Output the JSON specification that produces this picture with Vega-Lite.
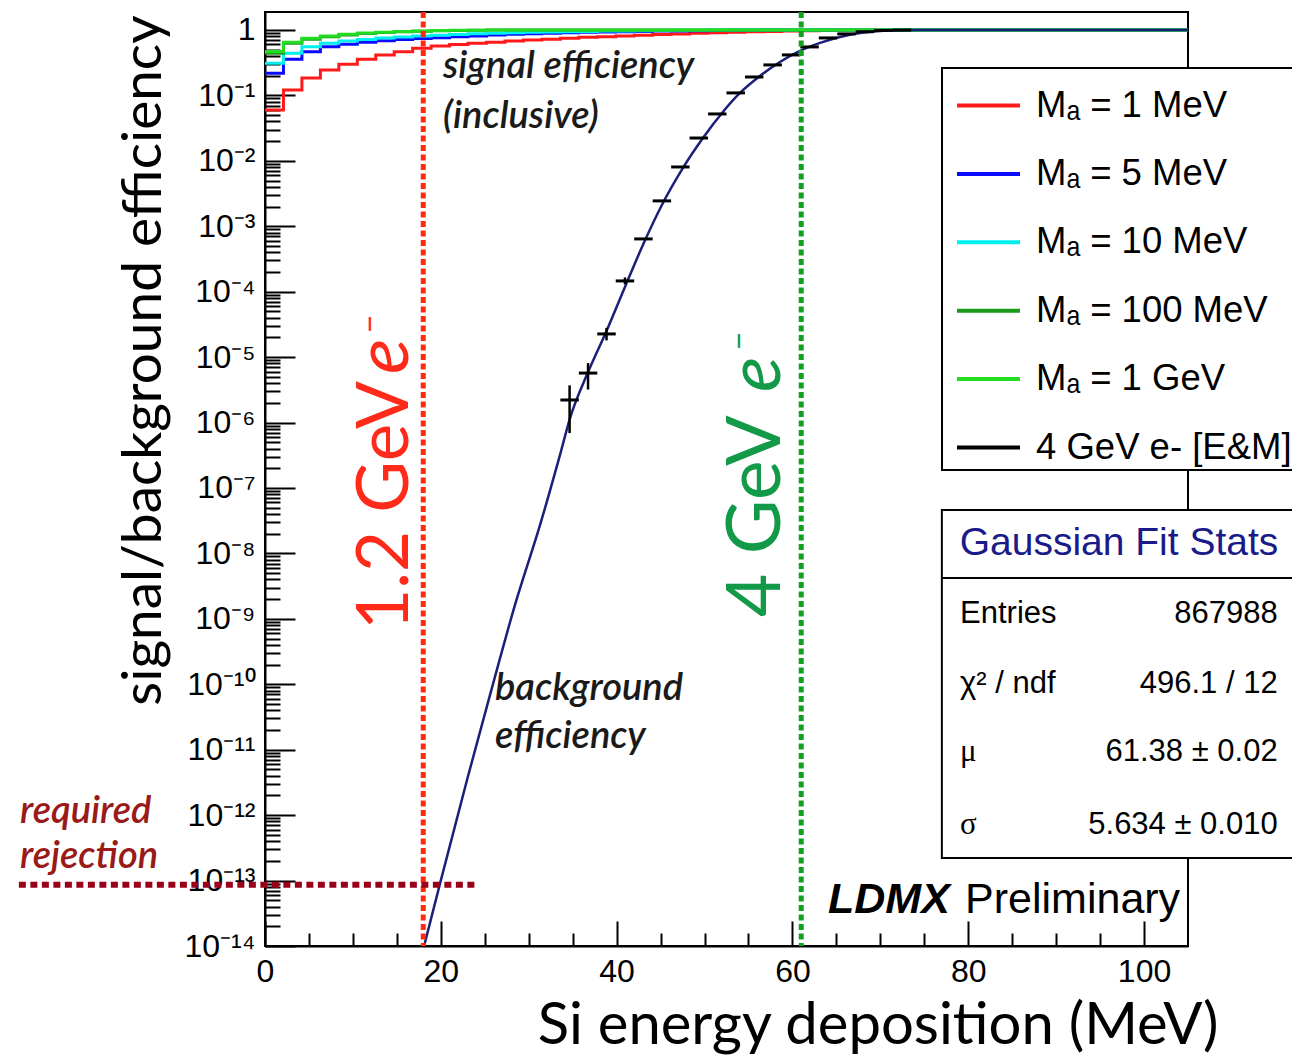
{
  "$schema": "https://vega.github.io/schema/vega-lite/v6.json",
  "width": 923,
  "height": 934,
  "autosize": {"type": "none"},
  "padding": {"left": 265, "top": 12, "right": 104, "bottom": 112},
  "background": "white",
  "config": {
    "view": {"stroke": "black", "strokeWidth": 2},
    "font": "Liberation Sans",
    "legend": {"strokeWidth": 2}
  },
  "datasets": {
    "one": [{}],
    "signal": [
      {"sample": "Mₐ = 1 MeV", "e": 0, "eff": 0.06},
      {"sample": "Mₐ = 1 MeV", "e": 2.1, "eff": 0.121},
      {"sample": "Mₐ = 1 MeV", "e": 4.2, "eff": 0.184},
      {"sample": "Mₐ = 1 MeV", "e": 6.3, "eff": 0.244},
      {"sample": "Mₐ = 1 MeV", "e": 8.4, "eff": 0.3},
      {"sample": "Mₐ = 1 MeV", "e": 10.5, "eff": 0.356},
      {"sample": "Mₐ = 1 MeV", "e": 12.6, "eff": 0.414},
      {"sample": "Mₐ = 1 MeV", "e": 14.7, "eff": 0.466},
      {"sample": "Mₐ = 1 MeV", "e": 16.8, "eff": 0.525},
      {"sample": "Mₐ = 1 MeV", "e": 18.9, "eff": 0.57},
      {"sample": "Mₐ = 1 MeV", "e": 21, "eff": 0.6},
      {"sample": "Mₐ = 1 MeV", "e": 23.1, "eff": 0.625},
      {"sample": "Mₐ = 1 MeV", "e": 25.2, "eff": 0.65},
      {"sample": "Mₐ = 1 MeV", "e": 27.3, "eff": 0.675},
      {"sample": "Mₐ = 1 MeV", "e": 29.4, "eff": 0.7},
      {"sample": "Mₐ = 1 MeV", "e": 31.5, "eff": 0.72},
      {"sample": "Mₐ = 1 MeV", "e": 33.6, "eff": 0.745},
      {"sample": "Mₐ = 1 MeV", "e": 35.7, "eff": 0.77},
      {"sample": "Mₐ = 1 MeV", "e": 37.8, "eff": 0.79},
      {"sample": "Mₐ = 1 MeV", "e": 39.9, "eff": 0.81},
      {"sample": "Mₐ = 1 MeV", "e": 42, "eff": 0.83},
      {"sample": "Mₐ = 1 MeV", "e": 44.1, "eff": 0.85},
      {"sample": "Mₐ = 1 MeV", "e": 46.2, "eff": 0.87},
      {"sample": "Mₐ = 1 MeV", "e": 48.3, "eff": 0.89},
      {"sample": "Mₐ = 1 MeV", "e": 50.4, "eff": 0.905},
      {"sample": "Mₐ = 1 MeV", "e": 52.5, "eff": 0.92},
      {"sample": "Mₐ = 1 MeV", "e": 54.6, "eff": 0.935},
      {"sample": "Mₐ = 1 MeV", "e": 56.7, "eff": 0.95},
      {"sample": "Mₐ = 1 MeV", "e": 58.8, "eff": 0.96},
      {"sample": "Mₐ = 1 MeV", "e": 60.9, "eff": 0.97},
      {"sample": "Mₐ = 1 MeV", "e": 63, "eff": 0.98},
      {"sample": "Mₐ = 1 MeV", "e": 65.1, "eff": 0.987},
      {"sample": "Mₐ = 1 MeV", "e": 67.2, "eff": 0.993},
      {"sample": "Mₐ = 1 MeV", "e": 69.3, "eff": 1.0},
      {"sample": "Mₐ = 1 MeV", "e": 105, "eff": 1.0},
      {"sample": "Mₐ = 5 MeV", "e": 0, "eff": 0.218},
      {"sample": "Mₐ = 5 MeV", "e": 2.1, "eff": 0.356},
      {"sample": "Mₐ = 5 MeV", "e": 4.2, "eff": 0.466},
      {"sample": "Mₐ = 5 MeV", "e": 6.3, "eff": 0.555},
      {"sample": "Mₐ = 5 MeV", "e": 8.4, "eff": 0.604},
      {"sample": "Mₐ = 5 MeV", "e": 10.5, "eff": 0.648},
      {"sample": "Mₐ = 5 MeV", "e": 12.6, "eff": 0.685},
      {"sample": "Mₐ = 5 MeV", "e": 14.7, "eff": 0.715},
      {"sample": "Mₐ = 5 MeV", "e": 16.8, "eff": 0.738},
      {"sample": "Mₐ = 5 MeV", "e": 18.9, "eff": 0.758},
      {"sample": "Mₐ = 5 MeV", "e": 21, "eff": 0.785},
      {"sample": "Mₐ = 5 MeV", "e": 23.1, "eff": 0.81},
      {"sample": "Mₐ = 5 MeV", "e": 25.2, "eff": 0.835},
      {"sample": "Mₐ = 5 MeV", "e": 27.3, "eff": 0.858},
      {"sample": "Mₐ = 5 MeV", "e": 29.4, "eff": 0.875},
      {"sample": "Mₐ = 5 MeV", "e": 31.5, "eff": 0.89},
      {"sample": "Mₐ = 5 MeV", "e": 33.6, "eff": 0.905},
      {"sample": "Mₐ = 5 MeV", "e": 35.7, "eff": 0.92},
      {"sample": "Mₐ = 5 MeV", "e": 37.8, "eff": 0.93},
      {"sample": "Mₐ = 5 MeV", "e": 39.9, "eff": 0.94},
      {"sample": "Mₐ = 5 MeV", "e": 42, "eff": 0.95},
      {"sample": "Mₐ = 5 MeV", "e": 44.1, "eff": 0.96},
      {"sample": "Mₐ = 5 MeV", "e": 46.2, "eff": 0.967},
      {"sample": "Mₐ = 5 MeV", "e": 48.3, "eff": 0.975},
      {"sample": "Mₐ = 5 MeV", "e": 50.4, "eff": 0.982},
      {"sample": "Mₐ = 5 MeV", "e": 52.5, "eff": 0.988},
      {"sample": "Mₐ = 5 MeV", "e": 54.6, "eff": 0.993},
      {"sample": "Mₐ = 5 MeV", "e": 56.7, "eff": 0.997},
      {"sample": "Mₐ = 5 MeV", "e": 58.8, "eff": 1.0},
      {"sample": "Mₐ = 5 MeV", "e": 105, "eff": 1.0},
      {"sample": "Mₐ = 10 MeV", "e": 0, "eff": 0.31},
      {"sample": "Mₐ = 10 MeV", "e": 2.1, "eff": 0.44},
      {"sample": "Mₐ = 10 MeV", "e": 4.2, "eff": 0.555},
      {"sample": "Mₐ = 10 MeV", "e": 6.3, "eff": 0.625},
      {"sample": "Mₐ = 10 MeV", "e": 8.4, "eff": 0.675},
      {"sample": "Mₐ = 10 MeV", "e": 10.5, "eff": 0.715},
      {"sample": "Mₐ = 10 MeV", "e": 12.6, "eff": 0.75},
      {"sample": "Mₐ = 10 MeV", "e": 14.7, "eff": 0.78},
      {"sample": "Mₐ = 10 MeV", "e": 16.8, "eff": 0.805},
      {"sample": "Mₐ = 10 MeV", "e": 18.9, "eff": 0.83},
      {"sample": "Mₐ = 10 MeV", "e": 21, "eff": 0.855},
      {"sample": "Mₐ = 10 MeV", "e": 23.1, "eff": 0.875},
      {"sample": "Mₐ = 10 MeV", "e": 25.2, "eff": 0.89},
      {"sample": "Mₐ = 10 MeV", "e": 27.3, "eff": 0.905},
      {"sample": "Mₐ = 10 MeV", "e": 29.4, "eff": 0.92},
      {"sample": "Mₐ = 10 MeV", "e": 31.5, "eff": 0.93},
      {"sample": "Mₐ = 10 MeV", "e": 33.6, "eff": 0.94},
      {"sample": "Mₐ = 10 MeV", "e": 35.7, "eff": 0.95},
      {"sample": "Mₐ = 10 MeV", "e": 37.8, "eff": 0.96},
      {"sample": "Mₐ = 10 MeV", "e": 39.9, "eff": 0.967},
      {"sample": "Mₐ = 10 MeV", "e": 42, "eff": 0.975},
      {"sample": "Mₐ = 10 MeV", "e": 44.1, "eff": 0.982},
      {"sample": "Mₐ = 10 MeV", "e": 46.2, "eff": 0.988},
      {"sample": "Mₐ = 10 MeV", "e": 48.3, "eff": 0.993},
      {"sample": "Mₐ = 10 MeV", "e": 50.4, "eff": 0.997},
      {"sample": "Mₐ = 10 MeV", "e": 52.5, "eff": 1.0},
      {"sample": "Mₐ = 10 MeV", "e": 105, "eff": 1.0},
      {"sample": "Mₐ = 100 MeV", "e": 0, "eff": 0.44},
      {"sample": "Mₐ = 100 MeV", "e": 2.1, "eff": 0.625},
      {"sample": "Mₐ = 100 MeV", "e": 4.2, "eff": 0.72},
      {"sample": "Mₐ = 100 MeV", "e": 6.3, "eff": 0.79},
      {"sample": "Mₐ = 100 MeV", "e": 8.4, "eff": 0.84},
      {"sample": "Mₐ = 100 MeV", "e": 10.5, "eff": 0.88},
      {"sample": "Mₐ = 100 MeV", "e": 12.6, "eff": 0.91},
      {"sample": "Mₐ = 100 MeV", "e": 14.7, "eff": 0.935},
      {"sample": "Mₐ = 100 MeV", "e": 16.8, "eff": 0.955},
      {"sample": "Mₐ = 100 MeV", "e": 18.9, "eff": 0.97},
      {"sample": "Mₐ = 100 MeV", "e": 21, "eff": 0.98},
      {"sample": "Mₐ = 100 MeV", "e": 23.1, "eff": 0.988},
      {"sample": "Mₐ = 100 MeV", "e": 25.2, "eff": 0.994},
      {"sample": "Mₐ = 100 MeV", "e": 27.3, "eff": 0.998},
      {"sample": "Mₐ = 100 MeV", "e": 29.4, "eff": 1.0},
      {"sample": "Mₐ = 100 MeV", "e": 105, "eff": 1.0},
      {"sample": "Mₐ = 1 GeV", "e": 0, "eff": 0.47},
      {"sample": "Mₐ = 1 GeV", "e": 2.1, "eff": 0.65},
      {"sample": "Mₐ = 1 GeV", "e": 4.2, "eff": 0.745},
      {"sample": "Mₐ = 1 GeV", "e": 6.3, "eff": 0.81},
      {"sample": "Mₐ = 1 GeV", "e": 8.4, "eff": 0.86},
      {"sample": "Mₐ = 1 GeV", "e": 10.5, "eff": 0.895},
      {"sample": "Mₐ = 1 GeV", "e": 12.6, "eff": 0.925},
      {"sample": "Mₐ = 1 GeV", "e": 14.7, "eff": 0.945},
      {"sample": "Mₐ = 1 GeV", "e": 16.8, "eff": 0.965},
      {"sample": "Mₐ = 1 GeV", "e": 18.9, "eff": 0.977},
      {"sample": "Mₐ = 1 GeV", "e": 21, "eff": 0.986},
      {"sample": "Mₐ = 1 GeV", "e": 23.1, "eff": 0.992},
      {"sample": "Mₐ = 1 GeV", "e": 25.2, "eff": 0.997},
      {"sample": "Mₐ = 1 GeV", "e": 27.3, "eff": 1.0},
      {"sample": "Mₐ = 1 GeV", "e": 105, "eff": 1.0}
    ],
    "fit": [
      {"e": 18.1, "eff": 1e-14},
      {"e": 19.9, "eff": 8.9e-14},
      {"e": 22.98, "eff": 3.45e-12},
      {"e": 25.6, "eff": 6.9e-11},
      {"e": 28.44, "eff": 1.63e-9},
      {"e": 31.29, "eff": 2.72e-8},
      {"e": 33.56, "eff": 3.2e-7},
      {"e": 34.7, "eff": 1.17e-6},
      {"e": 36.75, "eff": 5.9e-6},
      {"e": 38.9, "eff": 2.6e-5},
      {"e": 40.95, "eff": 1.18e-4},
      {"e": 43.0, "eff": 5.2e-4},
      {"e": 45.15, "eff": 2.11e-3},
      {"e": 47.55, "eff": 7.8e-3},
      {"e": 49.82, "eff": 0.0223},
      {"e": 51.99, "eff": 0.0538},
      {"e": 54.03, "eff": 0.109},
      {"e": 56.31, "eff": 0.198},
      {"e": 58.58, "eff": 0.324},
      {"e": 60.86, "eff": 0.478},
      {"e": 63.14, "eff": 0.633},
      {"e": 65.41, "eff": 0.782},
      {"e": 67.69, "eff": 0.9},
      {"e": 69.97, "eff": 0.965},
      {"e": 72.24, "eff": 0.99},
      {"e": 74.5, "eff": 1.0},
      {"e": 105, "eff": 1.0}
    ],
    "bkg": [
      {"sample": "4 GeV e- [E&M]", "e": 34.65, "e_lo": 33.6, "e_hi": 35.7, "eff": 2.21e-6, "lo": 6.9e-7, "hi": 3.7e-6},
      {"sample": "4 GeV e- [E&M]", "e": 36.75, "e_lo": 35.7, "e_hi": 37.8, "eff": 5.7e-6, "lo": 3.2e-6, "hi": 8.1e-6},
      {"sample": "4 GeV e- [E&M]", "e": 38.85, "e_lo": 37.8, "e_hi": 39.9, "eff": 2.26e-5, "lo": 1.8e-5, "hi": 2.8e-5},
      {"sample": "4 GeV e- [E&M]", "e": 40.95, "e_lo": 39.9, "e_hi": 42, "eff": 1.46e-4, "lo": 1.3e-4, "hi": 1.65e-4},
      {"sample": "4 GeV e- [E&M]", "e": 43.05, "e_lo": 42, "e_hi": 44.1, "eff": 6.4e-4, "lo": 6.2e-4, "hi": 6.6e-4},
      {"sample": "4 GeV e- [E&M]", "e": 45.15, "e_lo": 44.1, "e_hi": 46.2, "eff": 2.44e-3, "lo": 2.44e-3, "hi": 2.44e-3},
      {"sample": "4 GeV e- [E&M]", "e": 47.25, "e_lo": 46.2, "e_hi": 48.3, "eff": 8.05e-3, "lo": 8.05e-3, "hi": 8.05e-3},
      {"sample": "4 GeV e- [E&M]", "e": 49.35, "e_lo": 48.3, "e_hi": 50.4, "eff": 0.0223, "lo": 0.0223, "hi": 0.0223},
      {"sample": "4 GeV e- [E&M]", "e": 51.45, "e_lo": 50.4, "e_hi": 52.5, "eff": 0.052, "lo": 0.052, "hi": 0.052},
      {"sample": "4 GeV e- [E&M]", "e": 53.55, "e_lo": 52.5, "e_hi": 54.6, "eff": 0.109, "lo": 0.109, "hi": 0.109},
      {"sample": "4 GeV e- [E&M]", "e": 55.65, "e_lo": 54.6, "e_hi": 56.7, "eff": 0.191, "lo": 0.191, "hi": 0.191},
      {"sample": "4 GeV e- [E&M]", "e": 57.75, "e_lo": 56.7, "e_hi": 58.8, "eff": 0.292, "lo": 0.292, "hi": 0.292},
      {"sample": "4 GeV e- [E&M]", "e": 59.85, "e_lo": 58.8, "e_hi": 60.9, "eff": 0.415, "lo": 0.415, "hi": 0.415},
      {"sample": "4 GeV e- [E&M]", "e": 61.95, "e_lo": 60.9, "e_hi": 63, "eff": 0.55, "lo": 0.55, "hi": 0.55},
      {"sample": "4 GeV e- [E&M]", "e": 64.05, "e_lo": 63, "e_hi": 65.1, "eff": 0.755, "lo": 0.755, "hi": 0.755},
      {"sample": "4 GeV e- [E&M]", "e": 66.15, "e_lo": 65.1, "e_hi": 67.2, "eff": 0.87, "lo": 0.87, "hi": 0.87},
      {"sample": "4 GeV e- [E&M]", "e": 68.25, "e_lo": 67.2, "e_hi": 69.3, "eff": 0.94, "lo": 0.94, "hi": 0.94},
      {"sample": "4 GeV e- [E&M]", "e": 70.35, "e_lo": 69.3, "e_hi": 71.4, "eff": 0.98, "lo": 0.98, "hi": 0.98},
      {"sample": "4 GeV e- [E&M]", "e": 72.45, "e_lo": 71.4, "e_hi": 73.5, "eff": 0.995, "lo": 0.995, "hi": 0.995}
    ]
  },
  "layer": [
    {
      "data": {"name": "signal"},
      "transform": [{"filter": "datum.sample === 'Mₐ = 1 MeV'"}],
      "mark": {"type": "line", "interpolate": "step-after", "strokeWidth": 3},
      "encoding": {
        "x": {
          "field": "e", "type": "quantitative",
          "scale": {"domain": [0, 105], "nice": false, "zero": false},
          "axis": {
            "title": "Si energy deposition (MeV)",
            "titleFont": "Lato", "titleFontSize": 58, "titleFontWeight": "normal", "titleColor": "black",
            "titleAlign": "right", "titleBaseline": "alphabetic", "titleX": 953, "titleY": 97,
            "values": [0, 5, 10, 15, 20, 25, 30, 35, 40, 45, 50, 55, 60, 65, 70, 75, 80, 85, 90, 95, 100],
            "labelExpr": "datum.value % 20 === 0 ? datum.label : ''",
            "labelFont": "Liberation Sans", "labelFontSize": 32, "labelColor": "black",
            "labelPadding": 35, "labelBaseline": "top", "labelFlush": false, "labelOverlap": false,
            "tickSize": {"condition": {"test": "datum.value % 20 === 0", "value": -25}, "value": -13},
            "tickColor": "black", "tickWidth": 2, "domainColor": "black", "domainWidth": 2, "grid": false
          }
        },
        "y": {
          "field": "eff", "type": "quantitative",
          "scale": {"type": "log", "domain": [1e-14, 1.88], "nice": false},
          "axis": {
            "title": "signal/background efficiency",
            "titleFont": "Lato", "titleFontSize": 55, "titleFontWeight": "normal", "titleColor": "black",
            "titleAlign": "right", "titleAngle": 270, "titleBaseline": "alphabetic", "titleX": -105, "titleY": 3,
            "tickCount": 200,
            "labelExpr": "abs(log(datum.value)/LN10 - round(log(datum.value)/LN10)) > 0.001 ? '' : (datum.value > 0.5 ? '1' : '10⁻' + (round(-log(datum.value)/LN10) >= 10 ? '¹' : '') + ['⁰','¹','²','³','⁴','⁵','⁶','⁷','⁸','⁹'][round(-log(datum.value)/LN10) % 10])",
            "labelOverlap": false, "labelFlush": false,
            "labelFont": "Liberation Sans", "labelFontSize": 32, "labelColor": "black",
            "labelBaseline": "middle", "labelAlign": "right", "labelPadding": 40,
            "tickSize": {"condition": {"test": "abs(log(datum.value)/LN10 - round(log(datum.value)/LN10)) < 0.001", "value": -30}, "value": -15},
            "tickColor": "black", "tickWidth": 2, "domainColor": "black", "domainWidth": 2, "grid": false
          }
        },
        "color": {
          "field": "sample", "type": "nominal",
          "scale": {
            "domain": ["Mₐ = 1 MeV", "Mₐ = 5 MeV", "Mₐ = 10 MeV", "Mₐ = 100 MeV", "Mₐ = 1 GeV", "4 GeV e- [E&M]"],
            "range": ["#ff1a1a", "#0a0aff", "#00f0f0", "#1a9a1a", "#22dd22", "#000000"]
          },
          "legend": {
            "orient": "none", "legendX": 677, "legendY": 56, "title": null,
            "labelFont": "Liberation Sans", "labelFontSize": 36.5, "labelColor": "black", "labelLimit": 500,
            "padding": 4, "symbolOffset": 9, "strokeColor": "black", "fillColor": "white",
            "rowPadding": 16.4, "labelOffset": 14,
            "symbolType": "stroke", "symbolStrokeWidth": 4, "symbolSize": 3969
          }
        }
      }
    },
    {
      "data": {"name": "signal"},
      "transform": [{"filter": "datum.sample === 'Mₐ = 5 MeV'"}],
      "mark": {"type": "line", "interpolate": "step-after", "strokeWidth": 3},
      "encoding": {
        "x": {"field": "e", "type": "quantitative"},
        "y": {"field": "eff", "type": "quantitative"},
        "color": {"field": "sample", "type": "nominal"}
      }
    },
    {
      "data": {"name": "signal"},
      "transform": [{"filter": "datum.sample === 'Mₐ = 10 MeV'"}],
      "mark": {"type": "line", "interpolate": "step-after", "strokeWidth": 3},
      "encoding": {
        "x": {"field": "e", "type": "quantitative"},
        "y": {"field": "eff", "type": "quantitative"},
        "color": {"field": "sample", "type": "nominal"}
      }
    },
    {
      "data": {"name": "signal"},
      "transform": [{"filter": "datum.sample === 'Mₐ = 100 MeV'"}],
      "mark": {"type": "line", "interpolate": "step-after", "strokeWidth": 3},
      "encoding": {
        "x": {"field": "e", "type": "quantitative"},
        "y": {"field": "eff", "type": "quantitative"},
        "color": {"field": "sample", "type": "nominal"}
      }
    },
    {
      "data": {"name": "signal"},
      "transform": [{"filter": "datum.sample === 'Mₐ = 1 GeV'"}],
      "mark": {"type": "line", "interpolate": "step-after", "strokeWidth": 3},
      "encoding": {
        "x": {"field": "e", "type": "quantitative"},
        "y": {"field": "eff", "type": "quantitative"},
        "color": {"field": "sample", "type": "nominal"}
      }
    },
    {
      "data": {"name": "fit"},
      "mark": {"type": "line", "interpolate": "monotone", "color": "#1b1f7a", "strokeWidth": 2.5},
      "encoding": {
        "x": {"field": "e", "type": "quantitative"},
        "y": {"field": "eff", "type": "quantitative"}
      }
    },
    {
      "data": {"name": "bkg"},
      "mark": {"type": "rule", "strokeWidth": 3},
      "encoding": {
        "x": {"field": "e_lo", "type": "quantitative"},
        "x2": {"field": "e_hi"},
        "y": {"field": "eff", "type": "quantitative"},
        "color": {"field": "sample", "type": "nominal"}
      }
    },
    {
      "data": {"name": "bkg"},
      "mark": {"type": "rule", "strokeWidth": 2.5, "color": "black"},
      "encoding": {
        "x": {"field": "e", "type": "quantitative"},
        "y": {"field": "lo", "type": "quantitative"},
        "y2": {"field": "hi"}
      }
    },
    {
      "data": {"name": "one"},
      "mark": {"type": "rule", "color": "#ff2a10", "strokeWidth": 5, "strokeDash": [6, 3.5]},
      "encoding": {"x": {"datum": 18}}
    },
    {
      "data": {"name": "one"},
      "mark": {"type": "rule", "color": "#12a01e", "strokeWidth": 5, "strokeDash": [6, 3.5]},
      "encoding": {"x": {"datum": 61}}
    },
    {
      "data": {"name": "one"},
      "mark": {"type": "rule", "color": "#99001a", "strokeWidth": 6, "strokeDash": [7, 4.5]},
      "encoding": {"x": {"datum": -28}, "x2": {"datum": 24}, "y": {"datum": 8.6e-14}}
    },
    {
      "data": {"name": "one"},
      "mark": {"type": "text", "text": "signal efficiency", "font": "Lato", "fontStyle": "italic", "fontWeight": 600, "fontSize": 38, "color": "#1a1a1a", "align": "left", "baseline": "alphabetic"},
      "encoding": {"x": {"datum": 20.25}, "y": {"datum": 0.1846}}
    },
    {
      "data": {"name": "one"},
      "mark": {"type": "text", "text": "(inclusive)", "font": "Lato", "fontStyle": "italic", "fontWeight": 600, "fontSize": 38, "color": "#1a1a1a", "align": "left", "baseline": "alphabetic"},
      "encoding": {"x": {"datum": 20.25}, "y": {"datum": 0.0318}}
    },
    {
      "data": {"name": "one"},
      "mark": {"type": "text", "text": "background", "font": "Lato", "fontStyle": "italic", "fontWeight": 600, "fontSize": 38, "color": "#1a1a1a", "align": "left", "baseline": "alphabetic"},
      "encoding": {"x": {"datum": 26.17}, "y": {"datum": 5.75e-11}}
    },
    {
      "data": {"name": "one"},
      "mark": {"type": "text", "text": "efficiency", "font": "Lato", "fontStyle": "italic", "fontWeight": 600, "fontSize": 38, "color": "#1a1a1a", "align": "left", "baseline": "alphabetic"},
      "encoding": {"x": {"datum": 26.17}, "y": {"datum": 1.07e-11}}
    },
    {
      "data": {"name": "one"},
      "mark": {"type": "text", "text": "required", "font": "Lato", "fontStyle": "italic", "fontWeight": 600, "fontSize": 38, "color": "#9a1a1a", "align": "left", "baseline": "alphabetic"},
      "encoding": {"x": {"datum": -27.87}, "y": {"datum": 7.6e-13}}
    },
    {
      "data": {"name": "one"},
      "mark": {"type": "text", "text": "rejection", "font": "Lato", "fontStyle": "italic", "fontWeight": 600, "fontSize": 38, "color": "#9a1a1a", "align": "left", "baseline": "alphabetic"},
      "encoding": {"x": {"datum": -27.87}, "y": {"datum": 1.55e-13}}
    },
    {
      "data": {"name": "one"},
      "mark": {"type": "text", "text": "1.2 GeV", "font": "Lato", "fontSize": 71, "color": "#ff2a1a", "angle": 270, "align": "left", "baseline": "alphabetic"},
      "encoding": {"x": {"datum": 16.27}, "y": {"datum": 6.76e-10}}
    },
    {
      "data": {"name": "one"},
      "mark": {"type": "text", "text": "e", "font": "Lato", "fontStyle": "italic", "fontSize": 74, "color": "#ff2a1a", "angle": 270, "align": "left", "baseline": "alphabetic"},
      "encoding": {"x": {"datum": 16.27}, "y": {"datum": 5.52e-6}}
    },
    {
      "data": {"name": "one"},
      "mark": {"type": "text", "text": "−", "font": "Lato", "fontSize": 32, "color": "#ff2a1a", "angle": 270, "align": "center", "baseline": "middle"},
      "encoding": {"x": {"datum": 12.06}, "y": {"datum": 3.21e-5}}
    },
    {
      "data": {"name": "one"},
      "mark": {"type": "text", "text": "4 GeV", "font": "Lato", "fontSize": 75, "color": "#129a48", "angle": 270, "align": "left", "baseline": "alphabetic"},
      "encoding": {"x": {"datum": 58.59}, "y": {"datum": 1.07e-9}}
    },
    {
      "data": {"name": "one"},
      "mark": {"type": "text", "text": "e", "font": "Lato", "fontStyle": "italic", "fontSize": 74, "color": "#129a48", "angle": 270, "align": "left", "baseline": "alphabetic"},
      "encoding": {"x": {"datum": 58.59}, "y": {"datum": 2.93e-6}}
    },
    {
      "data": {"name": "one"},
      "mark": {"type": "text", "text": "−", "font": "Lato", "fontSize": 32, "color": "#129a48", "angle": 270, "align": "center", "baseline": "middle"},
      "encoding": {"x": {"datum": 54.04}, "y": {"datum": 1.77e-5}}
    },
    {
      "data": {"name": "one"},
      "mark": {"type": "text", "text": "LDMX", "font": "Liberation Sans", "fontStyle": "italic", "fontWeight": "bold", "fontSize": 43, "color": "black", "align": "left", "baseline": "alphabetic"},
      "encoding": {"x": {"datum": 64.05}, "y": {"datum": 3.2e-14}}
    },
    {
      "data": {"name": "one"},
      "mark": {"type": "text", "text": "Preliminary", "font": "Liberation Sans", "fontSize": 43, "color": "black", "align": "left", "baseline": "alphabetic"},
      "encoding": {"x": {"datum": 79.64}, "y": {"datum": 3.2e-14}}
    },
    {
      "data": {"name": "one"},
      "mark": {"type": "rect", "fill": "white", "stroke": "black", "strokeWidth": 2},
      "encoding": {"x": {"datum": 77}, "x2": {"datum": 130}, "y": {"datum": 4.61e-8}, "y2": {"datum": 2.21e-13}}
    },
    {
      "data": {"name": "one"},
      "mark": {"type": "rule", "color": "black", "strokeWidth": 2},
      "encoding": {"x": {"datum": 77}, "x2": {"datum": 130}, "y": {"datum": 4.21e-9}}
    },
    {
      "data": {"name": "one"},
      "mark": {"type": "text", "text": "Gaussian Fit Stats", "font": "Liberation Sans", "fontSize": 39, "color": "#1a1a8a", "align": "center", "baseline": "middle"},
      "encoding": {"x": {"datum": 97.15}, "y": {"datum": 1.44e-8}}
    },
    {
      "data": {"name": "one"},
      "mark": {"type": "text", "text": "Entries", "font": "Liberation Sans", "fontSize": 31, "color": "black", "align": "left", "baseline": "middle"},
      "encoding": {"x": {"datum": 79.07}, "y": {"datum": 1.19e-9}}
    },
    {
      "data": {"name": "one"},
      "mark": {"type": "text", "text": "867988", "font": "Liberation Sans", "fontSize": 31, "color": "black", "align": "right", "baseline": "middle"},
      "encoding": {"x": {"datum": 115.2}, "y": {"datum": 1.19e-9}}
    },
    {
      "data": {"name": "one"},
      "mark": {"type": "text", "text": "χ² / ndf", "font": "Liberation Sans", "fontSize": 31, "color": "black", "align": "left", "baseline": "middle"},
      "encoding": {"x": {"datum": 79.07}, "y": {"datum": 1.01e-10}}
    },
    {
      "data": {"name": "one"},
      "mark": {"type": "text", "text": "496.1 / 12", "font": "Liberation Sans", "fontSize": 31, "color": "black", "align": "right", "baseline": "middle"},
      "encoding": {"x": {"datum": 115.2}, "y": {"datum": 1.01e-10}}
    },
    {
      "data": {"name": "one"},
      "mark": {"type": "text", "text": "μ", "font": "Liberation Serif", "fontSize": 31, "color": "black", "align": "left", "baseline": "middle"},
      "encoding": {"x": {"datum": 79.07}, "y": {"datum": 9.2e-12}}
    },
    {
      "data": {"name": "one"},
      "mark": {"type": "text", "text": "61.38 ± 0.02", "font": "Liberation Sans", "fontSize": 31, "color": "black", "align": "right", "baseline": "middle"},
      "encoding": {"x": {"datum": 115.2}, "y": {"datum": 9.2e-12}}
    },
    {
      "data": {"name": "one"},
      "mark": {"type": "text", "text": "σ", "font": "Liberation Serif", "fontSize": 31, "color": "black", "align": "left", "baseline": "middle"},
      "encoding": {"x": {"datum": 79.07}, "y": {"datum": 7.08e-13}}
    },
    {
      "data": {"name": "one"},
      "mark": {"type": "text", "text": "5.634 ± 0.010", "font": "Liberation Sans", "fontSize": 31, "color": "black", "align": "right", "baseline": "middle"},
      "encoding": {"x": {"datum": 115.2}, "y": {"datum": 7.08e-13}}
    }
  ]
}
